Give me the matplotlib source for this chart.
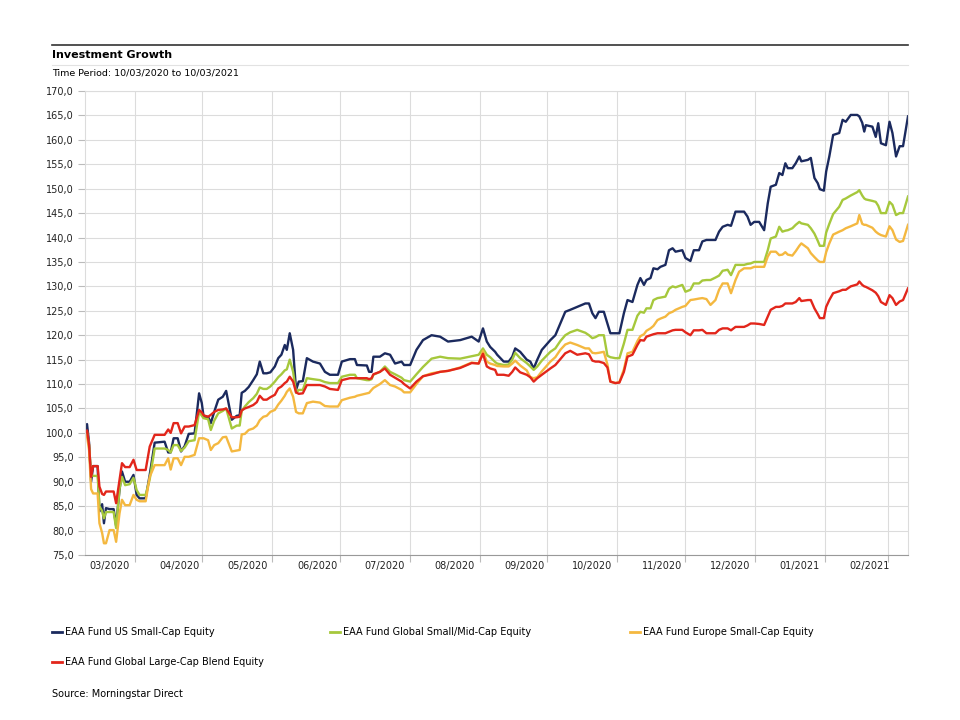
import pandas as pd
import matplotlib
matplotlib.use('Agg')
import matplotlib.pyplot as plt
import matplotlib.dates as mdates
from matplotlib.lines import Line2D
from matplotlib.ticker import FuncFormatter, MultipleLocator

start = pd.Timestamp('2020-03-10')

# days since 10/03/2020
days = [0, 0.9, 1.8, 2.7, 3.6, 5.6, 6.4, 7.6, 8.4, 9.3,
        10.9, 12.7, 13.8, 15.3, 16.4, 17.8, 19.8, 21.5, 22.9, 24.2,
        26.9, 28.7, 30.9, 35.3, 36.9, 38.0, 39.3, 41.1, 42.6, 44.2,
        46.0, 48.6, 50.6, 51.8, 52.6, 54.6, 55.8, 57.3, 59.1, 61.1,
        62.6, 65.1, 67.3, 68.6, 69.5, 70.9, 72.6, 74.6, 76.2, 77.5,
        79.1, 80.6, 82.2, 84.2, 85.7, 87.1, 88.6, 89.5, 90.8, 92.3,
        93.6, 94.8, 96.6, 98.4, 101.1, 104.2, 106.4, 108.6, 112.2, 113.9,
        117.5, 119.7, 120.6, 125.0, 126.0, 127.1, 127.9, 130.8, 133.0, 135.3,
        137.5, 140.4, 141.5, 144.2, 147.0, 149.9, 153.7, 157.5, 161.0, 166.4,
        171.5, 174.6, 176.5, 178.2, 179.7, 181.9, 182.8, 185.7, 187.9, 189.5,
        190.8, 193.0, 195.9, 197.5, 199.0, 200.6, 202.6, 206.4, 208.6, 210.8,
        213.0, 215.2, 218.3, 221.9, 223.5, 225.0, 226.4, 227.9, 230.1, 231.7,
        233.0, 235.2, 237.0, 239.0, 240.6, 242.8, 245.0, 246.3, 247.9, 249.0,
        250.8, 252.1, 253.9, 255.2, 257.4, 259.0, 260.6, 261.9, 264.9, 266.3,
        268.5, 270.0, 272.3, 273.8, 275.6, 277.4, 279.6, 281.2, 282.8, 285.0,
        286.5, 288.5, 290.1, 292.3, 293.8, 295.2, 296.8, 299.0, 301.2, 302.8,
        304.1, 306.4, 307.9, 309.3, 310.6, 311.7, 313.7, 315.2, 316.8, 317.7,
        320.6, 321.9, 323.5, 325.0, 325.9, 327.7, 328.7, 330.1, 331.8, 334.5,
        336.0, 337.4, 339.6, 342.5, 343.4, 344.7, 345.6, 346.3, 349.2, 350.7,
        351.8, 353.0, 355.2, 356.8, 358.1, 359.7, 361.3, 362.8, 365]

us_small = [100.0, 101.8, 98.0, 90.0, 93.2, 93.2, 83.9, 85.4, 81.5, 84.6,
            84.4, 84.4, 81.0, 88.3, 92.1, 90.0, 90.0, 91.4, 87.3, 86.6,
            86.6, 91.4, 98.0, 98.2, 96.0, 96.0, 98.9, 98.9, 96.2, 97.3,
            99.8, 99.9, 108.1, 106.1, 103.3, 103.3, 102.0, 104.3, 106.8, 107.4,
            108.6, 102.7, 103.5, 103.6, 108.2, 108.6, 109.4, 110.8, 112.0, 114.6,
            112.2, 112.2, 112.4, 113.6, 115.3, 116.0, 118.0, 117.0, 120.4, 117.0,
            108.8, 110.5, 110.6, 115.3, 114.6, 114.2, 112.5, 111.9, 111.9, 114.6,
            115.1, 115.1, 113.9, 113.8, 112.5, 112.5, 115.6, 115.6, 116.3, 116.0,
            114.2, 114.6, 113.9, 113.9, 117.0, 119.0, 120.0, 119.7, 118.7, 119.0,
            119.7, 118.7, 121.4, 118.7, 117.6, 116.6, 116.0, 114.6, 114.6, 115.6,
            117.3, 116.6, 115.0, 114.6, 113.2, 115.0, 117.0, 119.0, 120.0, 122.4,
            124.8, 125.2, 125.8, 126.5, 126.5, 124.5, 123.5, 124.8, 124.8, 122.4,
            120.4, 120.4, 120.4, 124.5, 127.2, 126.8, 130.3, 131.7, 130.3, 131.3,
            131.7, 133.7, 133.5, 134.0, 134.4, 137.4, 137.8, 137.1, 137.4, 135.8,
            135.2, 137.4, 137.4, 139.2, 139.5, 139.5, 139.5, 141.2, 142.2, 142.6,
            142.4, 145.3, 145.3, 145.3, 144.3, 142.6, 143.2, 143.2, 141.5, 147.0,
            150.4, 150.8, 153.2, 152.8, 155.2, 154.2, 154.2, 155.2, 156.6, 155.6,
            155.9, 156.3, 152.2, 151.1, 149.9, 149.6, 153.5, 156.6, 161.0, 161.4,
            164.1, 163.7, 165.1, 165.1, 164.8, 163.5, 161.7, 163.0, 162.7, 160.6,
            163.4, 159.3, 158.9, 163.7, 161.4, 156.6, 158.7, 158.7, 164.8]

global_smid = [100.0, 100.3, 97.5, 91.4, 91.2, 91.2, 85.0, 84.0, 82.5, 83.8,
               83.8, 83.8, 80.5, 88.5, 91.0, 89.3, 89.5, 90.8, 88.3, 87.3,
               87.3, 90.5, 96.8, 96.8, 96.5, 96.0, 97.5, 97.5, 96.3, 97.0,
               98.3, 98.5, 104.3, 103.5, 103.0, 102.8, 100.6, 102.5, 104.0, 104.5,
               105.0, 100.9, 101.5, 101.5, 104.5, 105.4, 106.3, 107.1, 108.0, 109.3,
               109.0, 109.0, 109.5, 110.5, 111.4, 112.0, 112.8, 113.0, 115.0, 112.5,
               108.2, 108.8, 108.8, 111.2, 111.0, 110.8, 110.4, 110.2, 110.2, 111.5,
               111.9, 111.9, 111.2, 110.8, 110.8, 111.0, 111.9, 112.5, 113.6, 112.5,
               112.0, 111.3, 110.8, 110.5, 112.0, 113.5, 115.2, 115.6, 115.3, 115.2,
               115.7, 116.0, 117.3, 116.0, 115.5, 114.5, 114.2, 113.9, 114.0, 115.0,
               116.4, 115.3, 114.3, 113.6, 112.9, 113.6, 114.8, 116.6, 117.3, 118.8,
               120.0, 120.6, 121.1, 120.5, 120.0, 119.4, 119.6, 120.0, 120.0, 115.8,
               115.5, 115.3, 115.3, 118.3, 121.1, 121.1, 124.0, 124.8, 124.6, 125.5,
               125.5, 127.2, 127.6, 127.7, 127.9, 129.5, 130.0, 129.8, 130.3, 128.9,
               129.3, 130.6, 130.6, 131.2, 131.3, 131.3, 131.8, 132.2, 133.2, 133.4,
               132.3, 134.4, 134.4, 134.4, 134.6, 134.7, 135.0, 135.0, 135.0, 137.4,
               139.8, 140.2, 142.2, 141.2, 141.4, 141.5, 141.9, 142.6, 143.2, 142.9,
               142.6, 141.9, 140.8, 139.3, 138.3, 138.3, 141.0, 142.8, 144.8, 146.3,
               147.7, 148.0, 148.6, 149.3, 149.7, 148.6, 148.0, 147.8, 147.5, 147.3,
               146.5, 145.0, 145.0, 147.3, 146.7, 144.6, 145.0, 145.0, 148.4]

europe_small = [99.5, 99.3, 96.5, 88.5, 87.6, 87.6, 81.5, 79.5, 77.4, 77.4,
                80.1, 80.1, 77.7, 83.5, 86.3, 85.2, 85.2, 87.3, 86.3, 86.0,
                86.0, 91.0, 93.4, 93.4, 94.8, 92.5, 94.8, 94.8, 93.4, 95.1,
                95.1, 95.5, 98.9, 98.9, 98.9, 98.5, 96.5, 97.5, 97.9, 99.1,
                99.2, 96.2, 96.4, 96.5, 99.7, 99.8, 100.6, 100.9, 101.5, 102.6,
                103.3, 103.5, 104.3, 104.7, 105.8, 106.6, 107.6, 108.4, 109.1, 107.4,
                104.3, 104.0, 104.0, 106.1, 106.4, 106.2, 105.5, 105.4, 105.4, 106.7,
                107.2, 107.4, 107.6, 108.1, 108.2, 108.8, 109.2, 110.0, 110.8, 109.8,
                109.5, 108.8, 108.3, 108.3, 110.0, 111.6, 112.2, 112.5, 112.7, 113.4,
                114.4, 114.2, 116.8, 114.6, 114.2, 113.9, 113.7, 113.6, 113.6, 114.2,
                114.8, 113.8, 112.8, 111.4, 111.2, 111.4, 112.6, 114.6, 115.5, 117.0,
                118.1, 118.5, 118.0, 117.3, 117.3, 116.4, 116.3, 116.4, 116.6, 114.0,
                110.5, 110.2, 110.4, 113.0, 116.3, 116.6, 118.8, 119.8, 120.2, 120.9,
                121.4, 121.9, 123.1, 123.4, 123.8, 124.5, 124.8, 125.2, 125.8, 126.0,
                127.2, 127.3, 127.5, 127.6, 127.4, 126.2, 127.2, 129.3, 130.6, 130.6,
                128.6, 131.3, 133.0, 133.7, 133.7, 133.7, 134.0, 134.0, 134.0, 136.1,
                137.1, 137.1, 136.4, 136.5, 137.0, 136.5, 136.3, 137.2, 138.3, 138.8,
                137.8, 136.8, 136.0, 135.3, 135.0, 135.0, 137.0, 138.8, 140.6, 141.2,
                141.5, 141.9, 142.3, 142.9, 144.6, 142.8, 142.6, 142.6, 142.0, 141.2,
                140.8, 140.5, 140.2, 142.3, 141.5, 139.6, 139.1, 139.3, 142.6]

global_large = [100.0, 100.5, 97.5, 91.0, 93.2, 93.2, 89.0, 87.5, 87.3, 88.0,
                88.0, 88.0, 85.6, 90.4, 93.8, 93.0, 93.0, 94.5, 92.4, 92.4,
                92.4, 97.2, 99.6, 99.6, 100.7, 100.0, 102.0, 102.0, 99.9, 101.3,
                101.3, 101.6, 104.7, 104.2, 103.6, 103.3, 103.7, 104.3, 104.7, 104.8,
                105.0, 103.2, 103.2, 103.3, 104.6, 105.0, 105.3, 105.7, 106.3, 107.6,
                106.8, 106.8, 107.3, 107.8, 109.1, 109.5, 110.2, 110.5, 111.5, 110.5,
                108.3, 108.0, 108.1, 109.8, 109.8, 109.8, 109.5, 109.0, 108.8, 110.8,
                111.2, 111.2, 111.2, 111.2, 111.0, 111.2, 112.0, 112.5, 113.2, 111.9,
                111.3, 110.5, 110.0, 109.1, 110.5, 111.6, 112.0, 112.5, 112.7, 113.3,
                114.3, 114.2, 116.2, 113.6, 113.2, 112.9, 111.9, 111.9, 111.7, 112.5,
                113.4, 112.4, 111.9, 111.4, 110.5, 111.2, 111.9, 113.2, 113.9, 115.1,
                116.3, 116.8, 116.0, 116.3, 116.1, 114.8, 114.6, 114.6, 114.3, 113.4,
                110.5, 110.2, 110.3, 112.5, 115.6, 116.0, 118.0, 119.0, 118.9, 119.7,
                120.0, 120.2, 120.4, 120.4, 120.4, 120.7, 121.0, 121.1, 121.1, 120.6,
                120.0, 121.0, 121.0, 121.1, 120.4, 120.4, 120.4, 121.1, 121.4, 121.4,
                121.0, 121.7, 121.7, 121.7, 122.0, 122.4, 122.4, 122.3, 122.1, 123.8,
                125.2, 125.8, 125.8, 126.0, 126.5, 126.5, 126.5, 126.8, 127.6, 127.0,
                127.2, 127.2, 125.5, 124.3, 123.5, 123.5, 125.8, 127.2, 128.6, 129.0,
                129.3, 129.3, 130.0, 130.4, 131.0, 130.3, 130.0, 129.9, 129.2, 128.7,
                128.0, 126.8, 126.2, 128.2, 127.6, 126.2, 126.9, 127.2, 129.6]

names = ['EAA Fund US Small-Cap Equity',
         'EAA Fund Global Small/Mid-Cap Equity',
         'EAA Fund Europe Small-Cap Equity',
         'EAA Fund Global Large-Cap Blend Equity']
colors = ['#1b2a5e', '#a6c83c', '#f4b840', '#e2261b']

dates = start + pd.to_timedelta(days, unit='D')

fig = plt.figure(figsize=(9.6, 7.2), dpi=100)
W, H = 960.0, 720.0
ax = fig.add_axes([85 / W, 1 - 555 / H, (908 - 85) / W, (555 - 91) / H])

for vals, col in zip([us_small, global_smid, europe_small, global_large], colors):
    ax.plot(dates, vals, color=col, lw=1.7, solid_joinstyle='round')

ax.set_xlim(start, start + pd.Timedelta(days=365))
ax.set_ylim(75, 170)

ax.yaxis.set_major_locator(MultipleLocator(5))
ax.yaxis.set_major_formatter(FuncFormatter(lambda v, p: f'{v:.1f}'.replace('.', ',')))

ax.xaxis.set_major_locator(mdates.MonthLocator())
ax.xaxis.set_major_formatter(plt.NullFormatter())
ax.xaxis.set_minor_locator(mdates.MonthLocator(bymonthday=21))
ax.xaxis.set_minor_formatter(mdates.DateFormatter('%m/%Y'))

ax.grid(True, which='major', color='#dcdcdc', lw=0.8)
ax.set_axisbelow(True)
ax.tick_params(axis='x', which='major', length=5, color='#bbbbbb')
ax.tick_params(axis='x', which='minor', length=0, labelsize=7, labelcolor='#222222', pad=4)
ax.tick_params(axis='y', length=5, color='#bbbbbb', labelsize=7, labelcolor='#222222', pad=3)

for s in ['top', 'right', 'left']:
    ax.spines[s].set_color('#dcdcdc')
ax.spines['bottom'].set_color('#999999')

# header
fig.add_artist(Line2D([52 / W, 908 / W], [1 - 45 / H, 1 - 45 / H], color='#333333', lw=1.2))
fig.add_artist(Line2D([52 / W, 908 / W], [1 - 65 / H, 1 - 65 / H], color='#e2e2e2', lw=0.8))
fig.text(52 / W, 1 - 55 / H, 'Investment Growth', fontsize=8, fontweight='bold', va='center')
fig.text(52 / W, 1 - 73 / H, 'Time Period: 10/03/2020 to 10/03/2021', fontsize=6.8, va='center')

# legend
leg_pos = [(52, 632), (330, 632), (630, 632), (52, 662)]
for (lx, ly), name, col in zip(leg_pos, names, colors):
    fig.add_artist(Line2D([lx / W, (lx + 10) / W], [1 - ly / H, 1 - ly / H], color=col, lw=2))
    fig.text((lx + 13) / W, 1 - ly / H, name, fontsize=7, va='center')

fig.text(52 / W, 1 - 694 / H, 'Source: Morningstar Direct', fontsize=7, va='center')

fig.savefig('out.png', dpi=100)
